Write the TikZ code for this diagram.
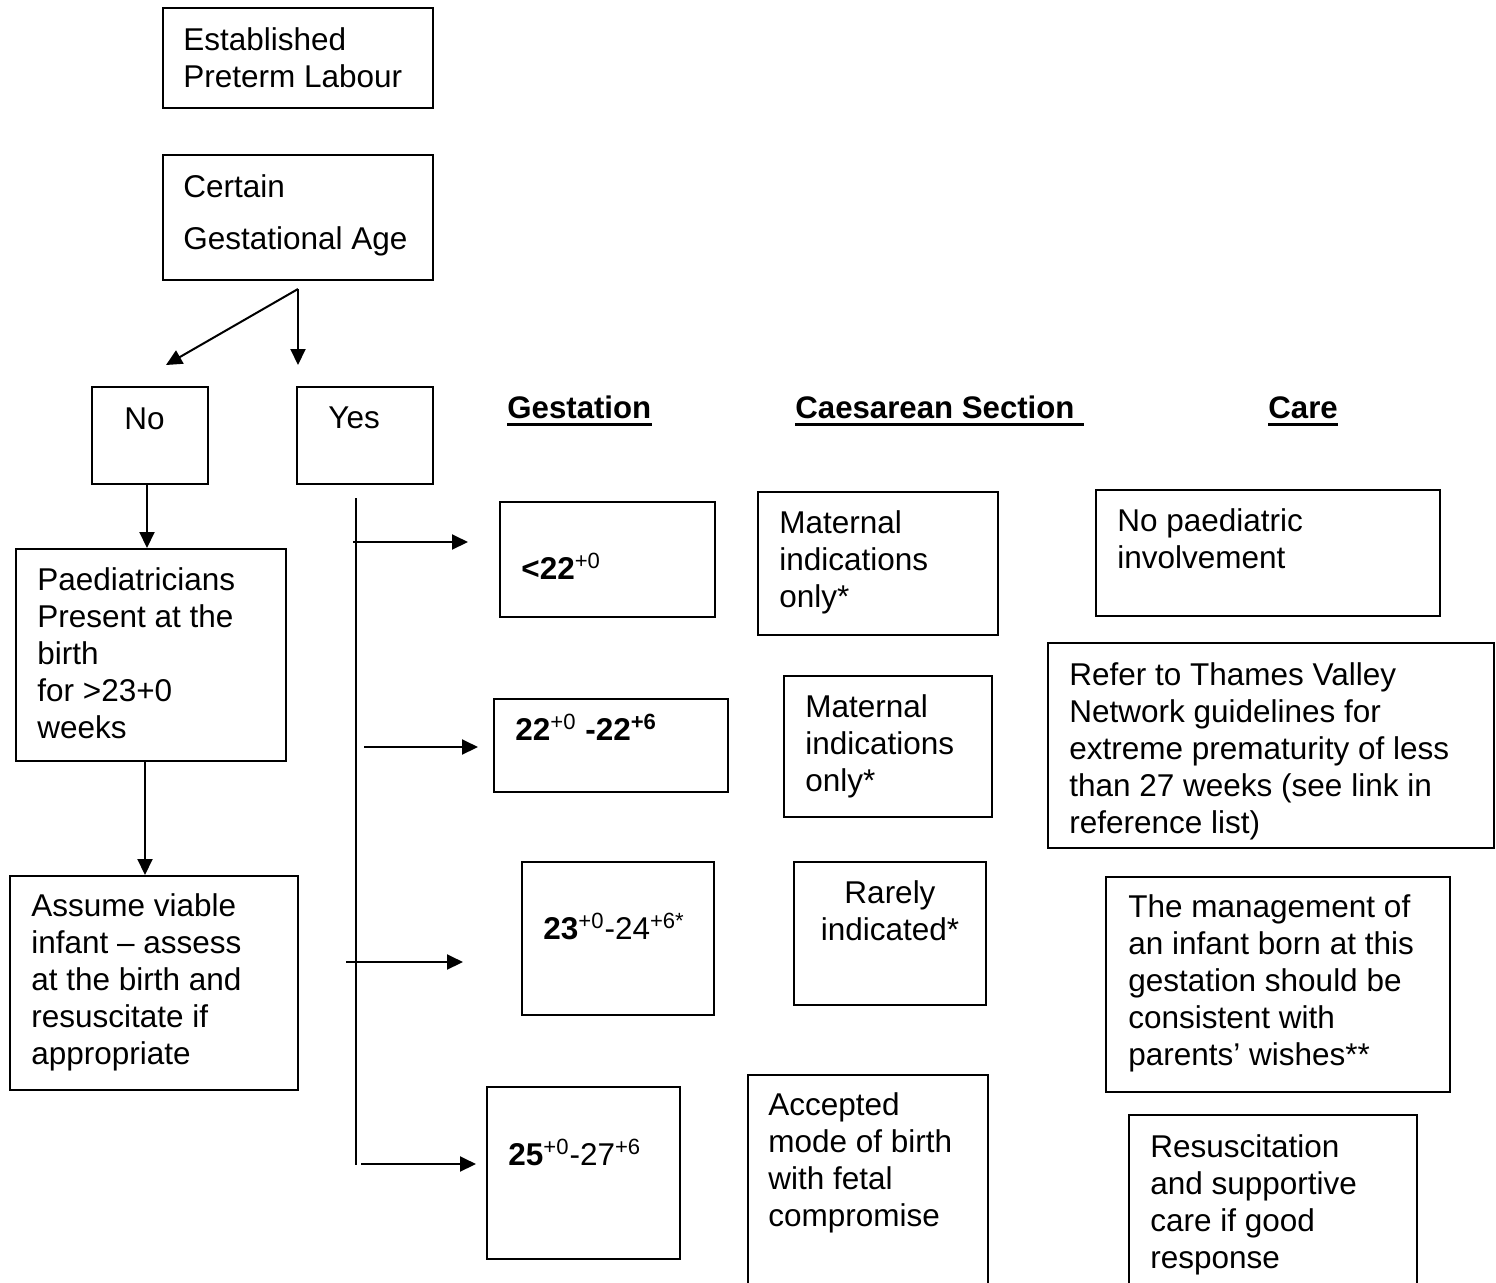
\documentclass[tikz,border=0pt]{standalone}
\usepackage{fontspec}
\setmainfont{Liberation Sans}
\usetikzlibrary{arrows.meta,fit}
\tikzset{
  box/.style={draw, line width=1pt, inner sep=0pt, rectangle},
  txt/.style={inner sep=0pt, align=left, anchor=north west, yshift=16pt, font=\fontsize{15.75pt}{18.5pt}\selectfont},
  hdr/.style={inner sep=0pt, anchor=base west, font=\fontsize{15.6pt}{18.5pt}\selectfont\bfseries},
  arr/.style={line width=1pt, -{Triangle[length=8pt,width=7.5pt]}},
  ln/.style={line width=1pt},
  uline/.style={line width=1.5pt}
}
\newcommand\st{\rule{0pt}{16pt}}
\begin{document}
\begin{tikzpicture}[x=0.5pt,y=-0.5pt]
\useasboundingbox (0,0) rectangle (1496,1282);
\clip (0,0) rectangle (1496,1282);
\fill[white] (0,0) rectangle (1496,1282);

% boxes
\node[box, fit={(163,8) (433,108)}] (est) {};
\node[box, fit={(163,155) (433,280)}] (cert) {};
\node[box, fit={(92,387) (208,484)}] (no) {};
\node[box, fit={(297,387) (433,484)}] (yes) {};
\node[box, fit={(16,549) (286,761)}] (paed) {};
\node[box, fit={(10,876) (298,1090)}] (assume) {};
\node[box, fit={(500,502) (715,617)}] (g1) {};
\node[box, fit={(494,699) (728,792)}] (g2) {};
\node[box, fit={(522,862) (714,1015)}] (g3) {};
\node[box, fit={(487,1087) (680,1259)}] (g4) {};
\node[box, fit={(758,492) (998,635)}] (c1) {};
\node[box, fit={(784,676) (992,817)}] (c2) {};
\node[box, fit={(794,862) (986,1005)}] (c3) {};
\node[box, fit={(748,1075) (988,1320)}] (c4) {};
\node[box, fit={(1096,490) (1440,616)}] (k1) {};
\node[box, fit={(1048,643) (1494,848)}] (k2) {};
\node[box, fit={(1106,877) (1450,1092)}] (k3) {};
\node[box, fit={(1129,1115) (1417,1320)}] (k4) {};

% texts
\node[txt] (est-t) at (183,50) {\st Established\\Preterm Labour};
\node[txt] (cert-t) at (183,197) {\st Certain\\[7.5pt]Gestational Age};
\node[txt] (no-t) at (124,429) {\st No};
\node[txt] (yes-t) at (328,428) {\st Yes};
\node[txt] (paed-t) at (37,590) {\st Paediatricians\\Present at the\\birth\\for >23+0\\weeks};
\node[txt] (assume-t) at (31,916) {\st Assume viable\\infant – assess\\at the birth and\\resuscitate if\\appropriate};
\node[txt] (g1-t) at (521,579) {\st\textbf{<22}\textsuperscript{+0}};
\node[txt] (g2-t) at (515,740) {\st\textbf{22}\textsuperscript{+0} \textbf{-22\textsuperscript{+6}}};
\node[txt] (g3-t) at (543,939) {\st\textbf{23}\textsuperscript{+0}-24\textsuperscript{+6*}};
\node[txt] (g4-t) at (508,1165) {\st\textbf{25}\textsuperscript{+0}-27\textsuperscript{+6}};
\node[txt] (c1-t) at (779,533) {\st Maternal\\indications\\only*};
\node[txt] (c2-t) at (805,717) {\st Maternal\\indications\\only*};
\node[txt, anchor=north, align=center] (c3-t) at (890,903) {\st Rarely\\indicated*};
\node[txt] (c4-t) at (768,1115) {\st Accepted\\mode of birth\\with fetal\\compromise};
\node[txt] (k1-t) at (1117,531) {\st No paediatric\\involvement};
\node[txt] (k2-t) at (1069,685) {\st Refer to Thames Valley\\Network guidelines for\\extreme prematurity of less\\than 27 weeks (see link in\\reference list)};
\node[txt] (k3-t) at (1128,917) {\st The management of\\an infant born at this\\gestation should be\\consistent with\\parents’ wishes**};
\node[txt] (k4-t) at (1150,1157) {\st Resuscitation\\and supportive\\care if good\\response};

% headers
\node[hdr] (hg) at (507,418) {Gestation};
\node[hdr] (hc) at (795,418) {Caesarean Section};
\node[hdr] (hk) at (1268,418) {Care};
\draw[uline] ([yshift=-3pt]hg.base west) -- ([yshift=-3pt]hg.base east);
\draw[uline] ([yshift=-3pt]hc.base west) -- ([yshift=-3pt,xshift=4.5pt]hc.base east);
\draw[uline] ([yshift=-3pt]hk.base west) -- ([yshift=-3pt]hk.base east);

% connectors
\coordinate (split) at (298,289);
\coordinate (noTip) at (166,365);
\coordinate (yesTip) at (298,365);
\draw[arr] (split) -- (noTip);
\draw[arr] (split) -- (yesTip);

\coordinate (xa) at (147,0);
\coordinate (xb) at (145,0);
\draw[arr] (no.south -| xa) -- (paed.north -| xa);
\draw[arr] (paed.south -| xb) -- (assume.north -| xb);

\coordinate (vtop) at (356,498);
\coordinate (vbot) at (356,1165);
\draw[ln] (vtop) -- (vbot);

\coordinate (h1s) at (353,542);  \coordinate (h1e) at (468,542);
\coordinate (h2s) at (364,747);  \coordinate (h2e) at (478,747);
\coordinate (h3s) at (346,962);  \coordinate (h3e) at (463,962);
\coordinate (h4s) at (361,1164); \coordinate (h4e) at (476,1164);
\draw[arr] (h1s) -- (h1e);
\draw[arr] (h2s) -- (h2e);
\draw[arr] (h3s) -- (h3e);
\draw[arr] (h4s) -- (h4e);
\end{tikzpicture}
\end{document}
